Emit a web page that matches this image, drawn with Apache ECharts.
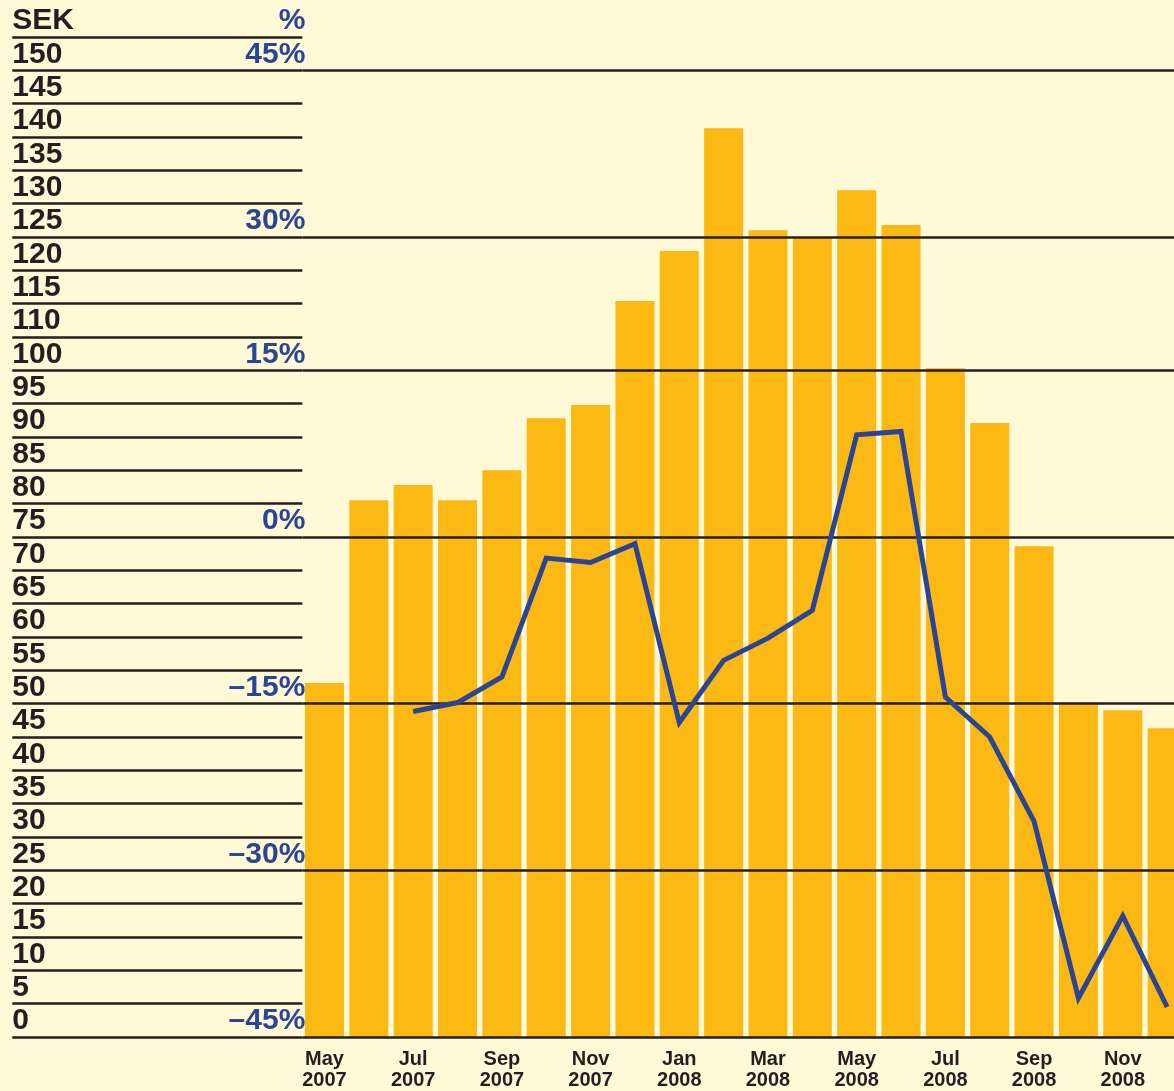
<!DOCTYPE html>
<html>
<head>
<meta charset="utf-8">
<script src="https://cdn.jsdelivr.net/npm/echarts@6/dist/echarts.min.js"></script>
<style>
  html, body { margin: 0; padding: 0; background: #FFF9D7; }
  #chart { width: 1174px; height: 1091px; }
</style>
</head>
<body>
<div id="chart"></div>
<script>
// months on the x axis
const months = ['May\n2007', 'Jun\n2007', 'Jul\n2007', 'Aug\n2007', 'Sep\n2007', 'Oct\n2007', 'Nov\n2007', 'Dec\n2007',
  'Jan\n2008', 'Feb\n2008', 'Mar\n2008', 'Apr\n2008', 'May\n2008', 'Jun\n2008', 'Jul\n2008', 'Aug\n2008',
  'Sep\n2008', 'Oct\n2008', 'Nov\n2008', 'Dec\n2008']

// share price, SEK (read on the evenly spaced rows of the left scale)
const sekValues = [53.1, 80.5, 82.8, 80.5, 85, 92.8, 94.8, 110.4, 117.9, 136.3, 121, 119.8, 127, 121.8,
  100.3, 92.1, 73.6, 50.2, 49, 46.3]

// change, %
const pctValues = ['-', '-', -15.7, -14.9, -12.6, -1.9, -2.3, -0.6, -16.7, -11.1, -9.1, -6.6, 9.2, 9.5,
  -14.4, -18, -25.6, -41.5, -34.1, -42.3]

// left tick labels, one per row from 0 up (the original skips 105)
const sekLabels = ['0', '5', '10', '15', '20', '25', '30', '35', '40', '45', '50', '55', '60', '65', '70',
  '75', '80', '85', '90', '95', '100', '110', '115', '120', '125', '130', '135', '140', '145', '150', 'SEK']

// % labels and the rows they sit on
const pctRows = [0, 25, 50, 75, 100, 120, 145, 150]
const pctLabels = ['–45%', '–30%', '–15%', '0%', '15%', '30%', '45%', '%']

const chartDom = document.getElementById('chart')
const myChart = echarts.init(chartDom)

const ink = '#231F20'
const blue = '#2A4595'

const option = {
  backgroundColor: '#FFF9D7',
  animation: false,
  // plot runs past the right edge, the last bar is cut off like in the print
  grid: { left: 302.3, width: 887, top: 37, bottom: 54, outerBoundsMode: 'none', containLabel: false },
  xAxis: {
    type: 'category',
    data: months,
    axisLine: { show: false },
    axisTick: { show: false },
    axisLabel: {
      interval: 1,
      margin: 12,
      color: ink,
      fontFamily: 'Liberation Sans',
      fontWeight: 'bold',
      fontSize: 20,
      lineHeight: 21
    }
  },
  yAxis: [
    {
      type: 'value',
      min: 0,
      max: 150,
      interval: 5,
      axisLine: { show: false },
      splitLine: { show: false },
      axisTick: { show: true, length: 290, lineStyle: { color: ink, width: 2.5 } },
      axisLabel: {
        margin: 290,
        align: 'left',
        verticalAlign: 'bottom',
        lineHeight: 32,
        formatter: (v) => {
          const i = Math.round(v / 5)
          const k = pctRows.indexOf(v)
          const p = k >= 0 ? pctLabels[k] : ''
          return '{n|' + sekLabels[i] + '}{p|' + p + '}'
        },
        rich: {
          n: { width: 200, align: 'left', color: ink, fontFamily: 'Liberation Sans', fontWeight: 'bold', fontSize: 30, lineHeight: 32 },
          p: { width: 93, align: 'right', color: blue, fontFamily: 'Liberation Sans', fontWeight: 'bold', fontSize: 30, lineHeight: 32 }
        }
      }
    },
    {
      type: 'value',
      min: -45,
      max: 45,
      show: false,
      splitLine: { show: false }
    }
  ],
  series: [
    {
      type: 'bar',
      data: sekValues,
      barWidth: 39,
      itemStyle: { color: '#FDB913' },
      markLine: {
        silent: true,
        symbol: 'none',
        label: { show: false },
        lineStyle: { color: ink, width: 2.5, type: 'solid' },
        data: [0, 25, 50, 75, 100, 120, 145].map(v => ({ yAxis: v }))
      }
    },
    {
      type: 'line',
      yAxisIndex: 1,
      data: pctValues,
      z: 5,
      symbol: 'none',
      lineStyle: { color: blue, width: 5, join: 'miter' }
    }
  ]
}

option && myChart.setOption(option)
</script>
</body>
</html>
